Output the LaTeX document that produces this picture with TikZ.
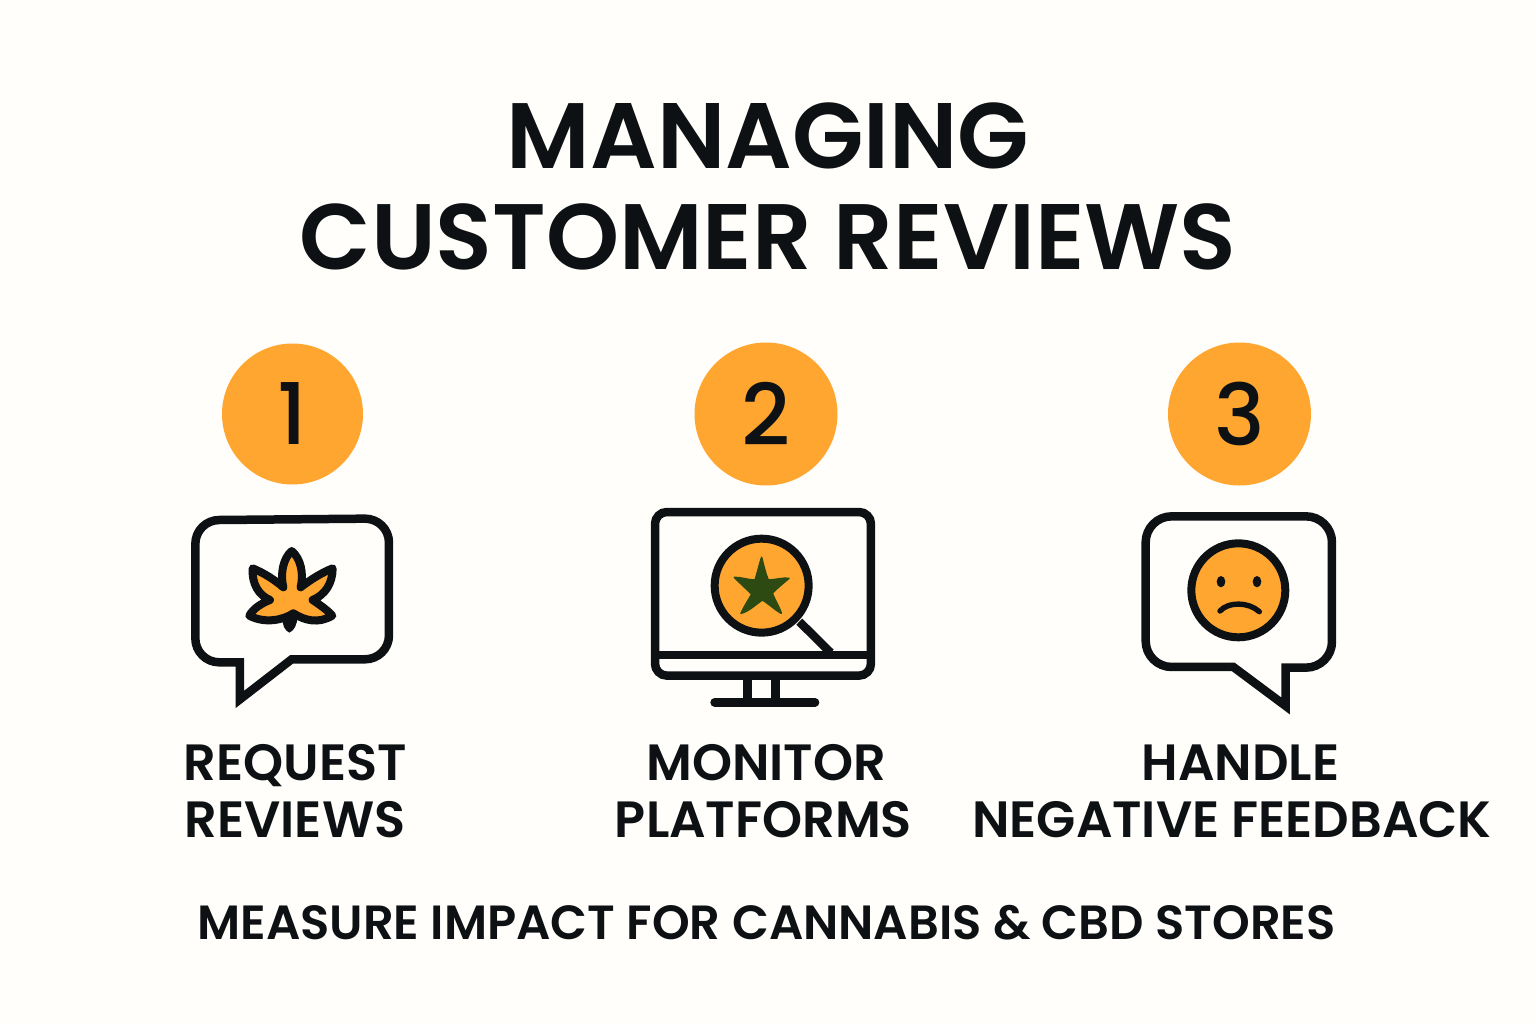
\documentclass[tikz,border=0pt]{standalone}
\usepackage{fontspec}
\newfontfamily\titlefont{Poppins SemiBold}
\newfontfamily\lblfont{Poppins Medium}
\definecolor{bgc}{HTML}{FFFEFA}
\definecolor{ink}{HTML}{0E1114}
\definecolor{amber}{HTML}{FFA630}
\definecolor{leafdark}{HTML}{2C4A12}
\tikzset{
  lbl/.style={anchor=base,inner sep=0pt,text=ink,font=\titlefont\fontsize{51}{51}\selectfont},
  ttl/.style={anchor=base,inner sep=0pt,text=ink,font=\titlefont\fontsize{93}{93}\selectfont},
  foot/.style={anchor=base,inner sep=0pt,text=ink,font=\titlefont\fontsize{48}{48}\selectfont},
  numdisc/.style={circle,fill=amber,inner sep=0pt,minimum size=143pt,text=ink,font=\lblfont\fontsize{85}{85}\selectfont},
  icon/.style={draw=ink,line width=8.5pt,line join=miter},
  iconfill/.style={draw=ink,fill=amber,line width=8pt,line join=round},
}
\begin{document}
\begin{tikzpicture}[x=1pt,y=-1pt]
\fill[bgc] (0,0) rectangle (1536,1024);
\useasboundingbox (0,0) rectangle (1536,1024);
\node[ttl] (t1) at (768,168.5) {MANAGING};
\node[ttl] (t2) at (768,269.5) {CUSTOMER REVIEWS};
\node[numdisc,minimum size=141pt] (n1) at (292.5,414) {1};
\node[numdisc] (n2) at (766,414) {2};
\node[numdisc] (n3) at (1239.5,414) {3};
% bubble 1
\begin{scope}[shift={(170pt,-500pt)},x=0.3333pt,y=-0.3333pt]
\draw[icon] (148,487) .. controls (108,487) and (76,455) .. (76,415) -- (76,132)
 .. controls (76,92) and (108,60) .. (148,60) -- (585,56)
 .. controls (625,56) and (657,88) .. (657,128) -- (657,406)
 .. controls (657,446) and (625,478) .. (585,478) -- (365,478) -- (210,598) -- (210,487) -- cycle;
\fill[ink] (358,398) .. controls (345,392) and (335,375) .. (338,350) -- (382,350) .. controls (382,375) and (372,392) .. (358,398) -- cycle;
\draw[iconfill] (365,153) .. controls (392,175) and (402,220) .. (392,262)
 .. controls (420,240) and (455,218) .. (488,205)
 .. controls (488,250) and (465,285) .. (428,300)
 .. controls (450,315) and (472,330) .. (487,347)
 .. controls (445,372) and (405,362) .. (370,340)
 .. controls (340,360) and (285,372) .. (238,347)
 .. controls (250,325) and (275,310) .. (300,300)
 .. controls (265,285) and (245,250) .. (248,205)
 .. controls (280,218) and (315,240) .. (340,262)
 .. controls (330,220) and (340,175) .. (365,153) -- cycle;
\end{scope}
% monitor
\begin{scope}[shift={(640pt,-500pt)},x=0.3333pt,y=-0.3333pt]
\draw[icon,rounded corners=12pt] (45,36) rectangle (693,527);
\draw[icon,line cap=butt] (45,465) -- (693,465);
\draw[icon] (322,527) -- (322,605);
\draw[icon] (407,527) -- (407,605);
\draw[ink,line width=8.7pt,line cap=round] (224,607) -- (525,607);
\draw[icon] (478,365) -- (572,458);
\draw[iconfill] (365,257) circle[radius=141];
\fill[leafdark,draw=leafdark,line width=1.5pt,line join=round] (365,172) .. controls (372,200) and (378,225) .. (385,240)
 .. controls (405,240) and (430,232) .. (447,235)
 .. controls (430,250) and (410,265) .. (397,280)
 .. controls (405,300) and (420,325) .. (424,340)
 .. controls (405,330) and (385,310) .. (367,300)
 .. controls (345,315) and (325,335) .. (303,340)
 .. controls (312,320) and (325,300) .. (335,283)
 .. controls (318,265) and (295,245) .. (283,232)
 .. controls (305,232) and (325,240) .. (345,240)
 .. controls (352,220) and (357,195) .. (365,172) -- cycle;
\end{scope}
% bubble 3
\begin{scope}[shift={(1125pt,-500pt)},x=0.3333pt,y=-0.3333pt]
\draw[icon] (140,501) .. controls (97,501) and (62,466) .. (62,423) -- (62,127)
 .. controls (62,84) and (97,49) .. (140,49) -- (543,49)
 .. controls (586,49) and (621,84) .. (621,127) -- (621,425)
 .. controls (621,468) and (586,503) .. (543,503) -- (482,503) -- (482,618) -- (325,501) -- cycle;
\draw[iconfill] (340,271) circle[radius=141];
\fill[ink] (288,245) ellipse[x radius=13,y radius=17];
\fill[ink] (396,245) ellipse[x radius=13,y radius=17];
\draw[ink,line width=5.4pt,line cap=round] (285,333) .. controls (310,305) and (370,305) .. (403,335);
\end{scope}
\node[lbl] (a1) at (295.5,780) {REQUEST};
\node[lbl] (a2) at (295,837) {REVIEWS};
\node[lbl] (b1) at (766,780) {MONITOR};
\node[lbl] (b2) at (763.5,837) {PLATFORMS};
\node[lbl] (c1) at (1240.5,780) {HANDLE};
\node[lbl] (c2) at (1232,837) {NEGATIVE FEEDBACK};
\node[foot] (f) at (766.5,939) {MEASURE IMPACT FOR CANNABIS \& CBD STORES};
\end{tikzpicture}
\end{document}
